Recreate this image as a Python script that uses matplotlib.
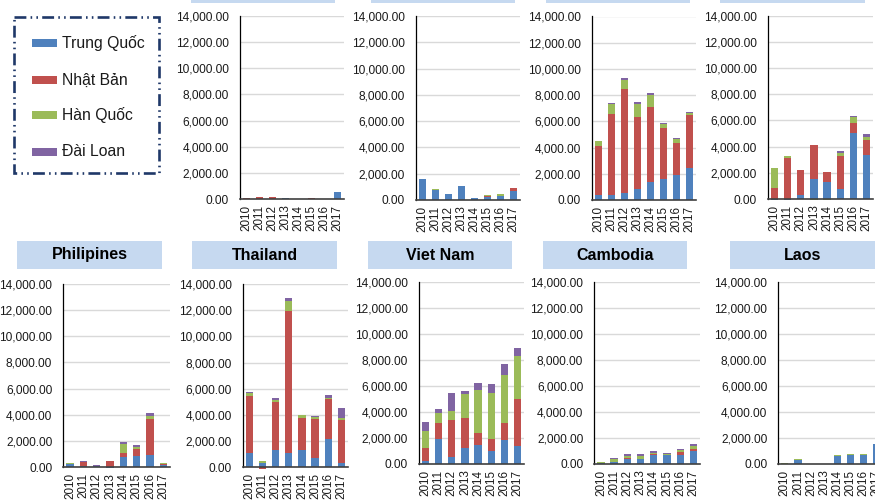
import matplotlib
matplotlib.use("Agg")
import matplotlib.pyplot as plt
from matplotlib.patches import Rectangle
from matplotlib.ticker import FuncFormatter

plt.rcParams['font.family'] = ['Liberation Sans', 'DejaVu Sans']

# ---------------------------------------------------------------- data
years = ["2010", "2011", "2012", "2013", "2014", "2015", "2016", "2017"]
investors = ["Trung Quốc", "Nhật Bản", "Hàn Quốc", "Đài Loan"]
colors = ["#4F81BD", "#C0504D", "#9BBB59", "#8064A2"]

# top row (titles lie above the visible area)
top1_cn = [20, 30, 20, 80, 10, 10, 20, 500]
top1_jp = [50, 100, 120, 20, 20, 40, 10, 10]
top1_kr = [0, 0, 0, 0, 0, 0, 0, 0]
top1_tw = [10, 20, 30, 10, 0, 0, 0, 0]

top2_cn = [1560, 780, 470, 1060, 150, 200, 330, 690]
top2_jp = [0, 0, 0, 0, 0, 130, 0, 260]
top2_kr = [40, 20, 20, 20, 30, 20, 110, 0]
top2_tw = [0, 0, 0, 0, 0, 0, 0, 0]

top3_cn = [380, 380, 560, 865, 1370, 1580, 1930, 2440]
top3_jp = [3770, 6160, 7890, 5470, 5730, 3940, 2440, 4020]
top3_kr = [350, 760, 710, 990, 890, 280, 310, 200]
top3_tw = [0, 100, 130, 180, 180, 50, 30, 30]

top4_cn = [-50, -50, 300, 1500, 1320, 790, 5010, 3330]
top4_jp = [870, 3100, 1910, 2600, 710, 2490, 790, 1170]
top4_kr = [1520, 200, 0, -50, -50, 200, 430, 250]
top4_tw = [0, 0, 0, 0, 0, 200, 100, 250]

# bottom row
ph_cn = [230, 130, 100, -60, 760, 890, 940, 150]
ph_jp = [50, 280, 30, 500, 360, 480, 2720, 100]
ph_kr = [20, 0, 0, 0, 630, 200, 250, 50]
ph_tw = [0, 40, 20, 0, 150, 150, 250, 50]

th_cn = [1070, 300, 1320, 1070, 1320, 710, 2190, 350]
th_jp = [4380, -100, 3690, 10890, 2440, 2980, 3000, 3300]
th_kr = [250, 150, 150, 740, 250, 150, 80, 150]
th_tw = [80, 0, 150, 200, 0, 100, 230, 750]

vn_cn = [230, 1930, 510, 1210, 1460, 1000, 1820, 1410]
vn_jp = [980, 1260, 2880, 2360, 950, 925, 1310, 3620]
vn_kr = [1340, 745, 690, 1800, 3290, 3545, 3700, 3310]
vn_tw = [720, 335, 1360, 280, 540, 720, 900, 590]

kh_cn = [100, 190, 420, 360, 660, 660, 720, 970]
kh_jp = [0, 0, 30, 50, 80, 30, 180, 210]
kh_kr = [50, 160, 180, 180, 130, 100, 160, 230]
kh_tw = [30, 100, 150, 150, 100, 60, 100, 160]

la_cn = [0, 330, 0, 0, 650, 680, 700, 1540]
la_jp = [30, 0, 0, 0, 0, 0, 0, 0]
la_kr = [30, 50, 0, 0, 30, 120, 100, 0]
la_tw = [0, 0, 0, 0, 0, 0, 0, 0]

# ---------------------------------------------------------------- layout
W, H = 875, 501
fig = plt.figure(figsize=(W / 100, H / 100), dpi=100)
fig.patch.set_facecolor("white")

TITLE_BG = "#C6D9F0"
TEXT = "#1A1A1A"


def px_axes(x0, x1, ytop, ybot):
    return fig.add_axes([x0 / W, 1 - ybot / H, (x1 - x0) / W, (ybot - ytop) / H])


def title_box(x0, x1, ytop, ybot, text=None):
    fig.patches.append(Rectangle((x0 / W, 1 - ybot / H), (x1 - x0) / W,
                                 (ybot - ytop) / H, transform=fig.transFigure,
                                 facecolor=TITLE_BG, edgecolor="none", zorder=0))
    if text:
        fig.text((x0 + x1) / 2 / W, 1 - (ytop + ybot) / 2 / H, text,
                 ha="center", va="center", fontsize=11.5, fontweight="bold",
                 color="black")


def panel(ax, series):
    xs = list(range(len(years)))
    pos = [0.0] * len(years)
    neg = [0.0] * len(years)
    for vals, c in zip(series, colors):
        bottoms = [pos[i] if v >= 0 else neg[i] for i, v in enumerate(vals)]
        ax.bar(xs, vals, width=0.55, bottom=bottoms, color=c,
               edgecolor="none", zorder=3, clip_on=False)
        for i, v in enumerate(vals):
            if v >= 0:
                pos[i] += v
            else:
                neg[i] += v
    ax.set_xlim(-0.5, len(years) - 0.5)
    ax.set_ylim(0, 14000)
    ax.set_yticks(range(0, 14001, 2000))
    ax.yaxis.set_major_formatter(FuncFormatter(lambda v, p: f"{v:,.2f}"))
    ax.set_xticks(xs)
    ax.set_xticklabels(years, rotation=90)
    ax.tick_params(axis="y", length=0, pad=8, labelsize=8.6, labelcolor=TEXT)
    ax.tick_params(axis="x", length=0, pad=4, labelsize=8.4, labelcolor=TEXT)
    ax.grid(axis="y", color="#D9D9D9", linewidth=1.0, zorder=0)
    ax.set_axisbelow(True)
    for s in ("top", "right"):
        ax.spines[s].set_visible(False)
    ax.spines["left"].set_color("black")
    ax.spines["left"].set_linewidth(0.9)
    ax.spines["bottom"].set_color("#404040")
    ax.spines["bottom"].set_linewidth(1.2)
    ax.spines["left"].set_zorder(4)
    ax.spines["bottom"].set_zorder(4)


# top row: (axes x0, x1, ytop, yzero), title box x range
top_panels = [
    ((240, 344, 16, 199), (191, 335), [top1_cn, top1_jp, top1_kr, top1_tw]),
    ((416, 520, 16, 200), (371, 515), [top2_cn, top2_jp, top2_kr, top2_tw]),
    ((592, 696, 16.5, 200), (546, 690), [top3_cn, top3_jp, top3_kr, top3_tw]),
    ((768, 873, 15.7, 199), (720, 865), [top4_cn, top4_jp, top4_kr, top4_tw]),
]
for (x0, x1, yt, yb), (bx0, bx1), series in top_panels:
    title_box(bx0, bx1, -20, 3)
    panel(px_axes(x0, x1, yt, yb), series)

# bottom row: country name, axes box, title box x range
bottom_panels = [
    ("Philipines", (63.3, 170, 283.7, 467.3), (17, 162), [ph_cn, ph_jp, ph_kr, ph_tw]),
    ("Thailand", (242.7, 348, 284, 467.3), (192, 337), [th_cn, th_jp, th_kr, th_tw]),
    ("Viet Nam", (419, 524, 282.3, 464), (368, 512), [vn_cn, vn_jp, vn_kr, vn_tw]),
    ("Cambodia", (594.3, 700, 282.3, 464), (543, 687), [kh_cn, kh_jp, kh_kr, kh_tw]),
    ("Laos", (778.3, 883, 282.3, 464), (730, 875), [la_cn, la_jp, la_kr, la_tw]),
]
for name, (x0, x1, yt, yb), (bx0, bx1), series in bottom_panels:
    title_box(bx0, bx1, 241, 269, name)
    panel(px_axes(x0, x1, yt, yb), series)

# ---------------------------------------------------------------- legend
leg_ax = fig.add_axes([0, 0, 1, 1], facecolor="none")
leg_ax.set_xlim(0, W)
leg_ax.set_ylim(H, 0)
leg_ax.axis("off")
leg_ax.add_patch(Rectangle((14, 17), 145, 156, facecolor="none",
                           edgecolor="#1F3868", linewidth=1.9,
                           linestyle=(0, (4.5, 1.6, 0.6, 1.6, 0.6, 1.6))))
for name, c, yc in zip(investors, colors, [43, 80, 115, 152]):
    leg_ax.add_patch(Rectangle((32, yc - 4), 25, 8, facecolor=c, edgecolor="none"))
    leg_ax.text(62, yc, name, ha="left", va="center", fontsize=11.3, color=TEXT)

fig.savefig("out.png", dpi=100, facecolor="white")
